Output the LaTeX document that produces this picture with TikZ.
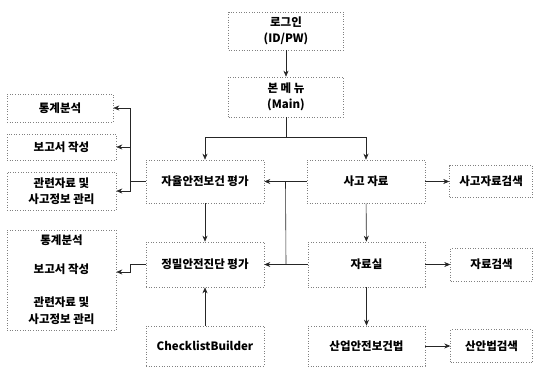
\documentclass[tikz,border=0pt]{standalone}
\usepackage{fontspec}
\setmainfont{Noto Sans CJK KR}
\usetikzlibrary{arrows.meta,positioning,calc}

\begin{document}
\begin{tikzpicture}[
			x=1pt, y=-1pt,
			node distance=24pt and 24pt,
			box/.style={rectangle, draw=black!50, dotted, line width=0.6pt, align=center, inner sep=2pt, font=\bfseries\fontsize{11.5}{16}\selectfont},
			line/.style={draw=black!85, line width=0.6pt, -{Stealth[length=6pt,width=5pt]}},
			wire/.style={draw=black!85, line width=0.6pt}
			]
			\useasboundingbox (0,0) rectangle (534,366);
			% Nodes
			\node [box, minimum width=115pt, minimum height=38pt] (login) at (286,31) {로그인\\(ID/PW)};
			\node [box, minimum width=115pt, minimum height=40pt] (main) at (286,97) {본 메 뉴\\(Main)};
			\node [box, minimum width=118pt, minimum height=43pt] (jayul) at (205,181.5) {자율안전보건 평가};
			\node [box, minimum width=118pt, minimum height=43pt] (sago) at (366,181.5) {사고 자료};
			\node [box, minimum width=118pt, minimum height=45pt] (jeongmil) at (205,264.5) {정밀안전진단 평가};
			\node [box, minimum width=117pt, minimum height=45pt] (jaryosil) at (366.5,264.5) {자료실};
			\node [box, minimum width=118pt, minimum height=40pt] (checklist) at (205,346) {ChecklistBuilder};
			\node [box, minimum width=117pt, minimum height=40pt] (saneop) at (366.5,346) {산업안전보건법};
			\node [box, minimum width=83pt, minimum height=32pt, right=24pt of sago] (sagosearch) {사고자료검색};
			\node [box, minimum width=82pt, minimum height=33pt, right=25pt of jaryosil] (jaryosearch) {자료검색};
			\node [box, minimum width=82pt, minimum height=33pt, right=25pt of saneop] (sanansearch) {산안법검색};
			\node [box, minimum width=106pt, minimum height=28pt] (stat) at (60,108) {통계분석};
			\node [box, minimum width=109pt, minimum height=26pt] (report) at (61.5,147) {보고서 작성};
			\node [box, minimum width=109pt, minimum height=38pt] (manage) at (61.5,191) {관련자료 및\\사고정보 관리};
			\node [box, minimum width=109pt, minimum height=100pt, font=\bfseries\fontsize{11.5}{17}\selectfont] (group) at (61.5,280) {통계분석\\[12pt]보고서 작성\\[16pt]관련자료 및\\사고정보 관리};

			% Junctions
			\coordinate (split) at ($(main.south)+(0,20)$);
			\coordinate (busL) at ($(jayul.west)+(-15,0)$);
			\coordinate (midA) at ($(sago.west)!0.5!(jayul.east)$);
			\coordinate (midB) at ($(jaryosil.west)!0.5!(jeongmil.east)$);
			\coordinate (bendJ) at ($(jeongmil.west)+(-15,0)$);
			\coordinate (groupin) at ($(group.east)+(0,-8)$);

			% Connections
			\path [line] (login) -- (main);
			\path [wire] (main) -- (split);
			\path [line] (split) -| (jayul);
			\path [line] (split) -| (sago);
			\path [wire] (jayul) -- (busL);
			\path [line] (busL) |- (stat);
			\path [line] (busL) |- (report);
			\path [line] (busL) |- (manage);
			\path [line] (jayul) -- (jeongmil);
			\path [line] (sago) -- (jayul);
			\path [line] (jaryosil) -- (jeongmil);
			\path [wire] (midA) -- (midB);
			\path [line] (jeongmil) -- (bendJ) |- (groupin);
			\path [line] (checklist) -- (jeongmil);
			\path [line] (sago) -- (jaryosil);
			\path [line] (sago) -- (sagosearch);
			\path [line] (jaryosil) -- (jaryosearch);
			\path [line] (jaryosil) -- (saneop);
			\path [line] (saneop) -- (sanansearch);
		\end{tikzpicture}
\end{document}
